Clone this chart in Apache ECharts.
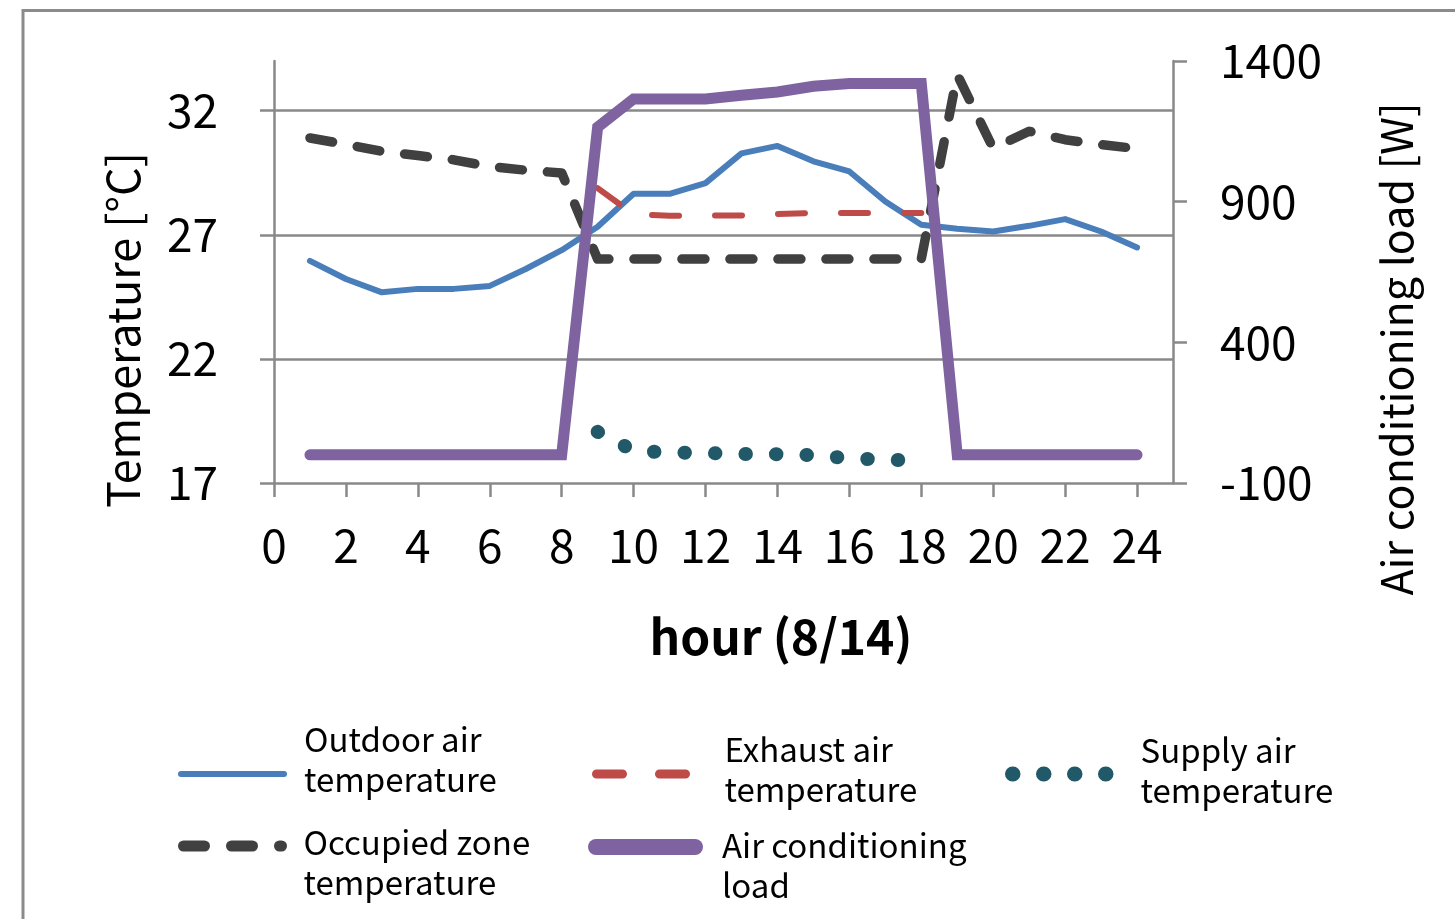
<!DOCTYPE html>
<html>
<head>
<meta charset="utf-8">
<script src="https://cdn.jsdelivr.net/npm/echarts@6/dist/echarts.min.js"></script>
<style>
html,body{margin:0;padding:0;background:#fff;}
#chart{width:1455px;height:919px;}
</style>
</head>
<body>
<div id="chart"></div>
<script>
// ---- data ----
const hours = [1,2,3,4,5,6,7,8,9,10,11,12,13,14,15,16,17,18,19,20,21,22,23,24];
const outdoorTemp = [25.95,25.22,24.68,24.82,24.82,24.94,25.62,26.38,27.32,28.65,28.65,29.08,30.28,30.58,29.96,29.55,28.34,27.40,27.24,27.13,27.36,27.63,27.13,26.49];
const occupiedTemp = [30.90,30.64,30.36,30.19,30.02,29.75,29.60,29.49,26.02,26.02,26.02,26.02,26.02,26.02,26.02,26.02,26.02,26.02,33.45,30.48,31.17,30.83,30.63,30.47];
const exhaustTemp = [null,null,null,null,null,null,null,null,28.88,27.82,27.77,27.77,27.78,27.84,27.88,27.88,27.88,27.88,null,null,null,null,null,null];
const supplyTemp = [null,null,null,null,null,null,null,null,19.06,18.30,18.23,18.21,18.17,18.16,18.12,18.00,17.93,17.92,null,null,null,null,null,null];
const acLoad = [0,0,0,0,0,0,0,0,1165,1265,1265,1265,1278,1290,1310,1320,1320,1320,0,0,0,0,0,0];

const xTicks = [0,2,4,6,8,10,12,14,16,18,20,22,24];
const tempTicks = [17,22,27,32];
const loadTicks = [-100,400,900,1400];
const gridTemps = [22,27,32];

const seriesNames = ['Outdoor air temperature','Occupied zone temperature','Exhaust air temperature','Air conditioning load','Supply air temperature'];
const legendLabels = ['Outdoor air\ntemperature','Occupied zone\ntemperature','Exhaust air\ntemperature','Air conditioning\nload','Supply air\ntemperature'];

// ---- styling ----
const FONT = "'Noto Sans CJK JP','Noto Sans',sans-serif";
const AXIS_GRAY = '#898989';
const C_BLUE = '#4A7EBB', C_GRAY = '#404040', C_RED = '#BE4B48', C_PURPLE = '#7F62A0', C_TEAL = '#215968';

const pairs = vals => hours.map((h, i) => [h, vals[i]]);

// One legend per entry. The two-line label is centred on the icon line; a blank spacer line
// (above when shift > 0, below when shift < 0) nudges the label down/up by |shift|/2.
function mkLegend(idx, left, iconY, o) {
  const g = Math.abs(o.shift);
  const label = o.shift > 0 ? '{g| }\n' + legendLabels[idx] : legendLabels[idx] + '\n{g| }';
  const boxH = 80 + g;
  return {
    show: true,
    data: [seriesNames[idx]],
    left: left,
    top: iconY - boxH / 2,
    padding: 0,
    orient: 'horizontal',
    itemWidth: o.itemWidth,
    itemHeight: 100,
    selectedMode: false,
    formatter: () => label,
    itemStyle: { opacity: 0, borderWidth: 0 },
    lineStyle: { width: o.width, type: o.type, cap: 'round', color: o.color },
    textStyle: {
      fontFamily: FONT, fontSize: 33, lineHeight: 40, color: '#000',
      padding: [0, 0, 0, o.pl],
      rich: { g: { fontSize: 1, lineHeight: g } }
    }
  };
}

const chart = echarts.init(document.getElementById('chart'), null, { renderer: 'canvas' });

const option = {
  animation: false,
  backgroundColor: '#fff',
  grid: { left: 274, right: 282, top: 61, bottom: 436, containLabel: false, outerBoundsMode: 'none' },
  graphic: [{
    type: 'rect', silent: true, z: -10,
    shape: { x: 23, y: 10.5, width: 1500, height: 1000 },
    style: { fill: 'none', stroke: '#8b8b8b', lineWidth: 3 }
  }],
  xAxis: {
    type: 'value', min: 0, max: 25, interval: 2,
    name: 'hour (8/14)', nameLocation: 'middle', nameGap: 130,
    nameTextStyle: { fontFamily: FONT, fontSize: 48, fontWeight: 'bold', color: '#000', padding: [0, 0, 0, 115] },
    axisLine: { show: true, onZero: false, lineStyle: { color: AXIS_GRAY, width: 2.5 } },
    axisTick: { show: true, length: 14, customValues: xTicks, lineStyle: { color: AXIS_GRAY, width: 2.5 } },
    axisLabel: { customValues: xTicks, margin: 40, fontFamily: FONT, fontSize: 46, color: '#000', formatter: v => String(v) },
    splitLine: { show: false }
  },
  yAxis: [{
    type: 'value', position: 'left', min: 17, max: 34, interval: 5,
    name: 'Temperature [°C]', nameLocation: 'middle', nameGap: 129,
    nameTextStyle: { fontFamily: FONT, fontSize: 45, color: '#000', padding: [0, 116, 0, 0] },
    axisLine: { show: true, onZero: false, lineStyle: { color: AXIS_GRAY, width: 2.5 } },
    axisTick: { show: true, length: 14, customValues: tempTicks, lineStyle: { color: AXIS_GRAY, width: 2.5 } },
    axisLabel: { customValues: tempTicks, margin: 56, fontFamily: FONT, fontSize: 46, color: '#000', formatter: v => String(v) },
    splitLine: { show: false }
  }, {
    type: 'value', position: 'right', min: -100, max: 1400, interval: 500,
    name: 'Air conditioning load [W]', nameLocation: 'middle', nameGap: 202,
    nameTextStyle: { fontFamily: FONT, fontSize: 43, color: '#000', padding: [0, 154, 0, 0] },
    axisLine: { show: true, onZero: false, lineStyle: { color: AXIS_GRAY, width: 2.5 } },
    axisTick: { show: true, length: 14, customValues: loadTicks, lineStyle: { color: AXIS_GRAY, width: 2.5 } },
    axisLabel: { customValues: loadTicks, margin: 47, fontFamily: FONT, fontSize: 46, color: '#000', formatter: v => String(v) },
    splitLine: { show: false }
  }],
  legend: [
    mkLegend(0, 178, 774, { itemWidth: 103, width: 6, type: 'solid', color: C_BLUE, pl: 15, shift: -30 }),
    mkLegend(1, 178, 846, { itemWidth: 98, width: 11, type: [21, 27], color: C_GRAY, pl: 17, shift: 32 }),
    mkLegend(2, 592, 774, { itemWidth: 89, width: 9, type: [26, 37], color: C_RED, pl: 34, shift: -10 }),
    mkLegend(3, 588, 847, { itemWidth: 99, width: 16, type: 'solid', color: C_PURPLE, pl: 22, shift: 36 }),
    mkLegend(4, 1005, 774, { itemWidth: 94, width: 15, type: [0.5, 30.5], color: C_TEAL, pl: 29, shift: -8 })
  ],
  series: [{
    name: seriesNames[0], type: 'line', xAxisIndex: 0, yAxisIndex: 0, z: 3,
    data: pairs(outdoorTemp), symbol: 'none', showSymbol: false,
    lineStyle: { color: C_BLUE, width: 6, cap: 'round', join: 'round' },
    itemStyle: { color: C_BLUE },
    markLine: {
      silent: true, z: 1, symbol: ['none', 'none'], animation: false,
      label: { show: false },
      lineStyle: { color: AXIS_GRAY, width: 2.5, type: 'solid' },
      emphasis: { disabled: true },
      data: gridTemps.map(v => ({ yAxis: v }))
    }
  }, {
    name: seriesNames[1], type: 'line', xAxisIndex: 0, yAxisIndex: 0, z: 3,
    data: pairs(occupiedTemp), symbol: 'none', showSymbol: false,
    lineStyle: { color: C_GRAY, width: 9.5, type: [23, 25], cap: 'round', join: 'round' },
    itemStyle: { color: C_GRAY }
  }, {
    name: seriesNames[2], type: 'line', xAxisIndex: 0, yAxisIndex: 0, z: 3,
    data: pairs(exhaustTemp), symbol: 'none', showSymbol: false,
    lineStyle: { color: C_RED, width: 6, type: [27, 36], cap: 'round', join: 'round' },
    itemStyle: { color: C_RED }
  }, {
    name: seriesNames[4], type: 'line', xAxisIndex: 0, yAxisIndex: 0, z: 3,
    data: pairs(supplyTemp), symbol: 'none', showSymbol: false,
    lineStyle: { color: C_TEAL, width: 14, type: [0.5, 30], cap: 'round', join: 'round' },
    itemStyle: { color: C_TEAL }
  }, {
    name: seriesNames[3], type: 'line', xAxisIndex: 0, yAxisIndex: 1, z: 4,
    data: pairs(acLoad), symbol: 'none', showSymbol: false,
    lineStyle: { color: C_PURPLE, width: 11, cap: 'round', join: 'miter' },
    itemStyle: { color: C_PURPLE }
  }]
};

chart.setOption(option);
</script>
</body>
</html>
